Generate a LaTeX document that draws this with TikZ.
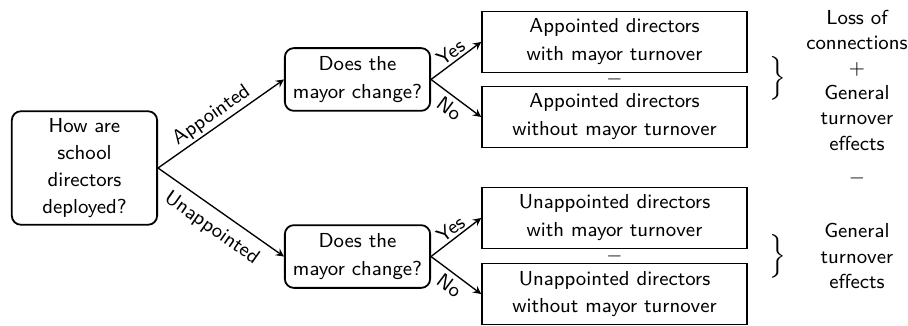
\documentclass[tikz,border=0pt]{standalone}
\usepackage{tikz}
\usepackage{amsmath}
\usepackage{amssymb}
\usetikzlibrary{shapes,arrows,positioning,calc}
\renewcommand{\familydefault}{\sfdefault}

\begin{document}
\begin{tikzpicture}[>=stealth, font=\fontsize{9}{12.4}\selectfont]
  \tikzstyle{question}=[draw, thick, rounded corners=4pt, minimum width=2.27cm, align=center]
  \tikzstyle{outcome}=[draw, thick, minimum width=4.14cm, minimum height=0.92cm, align=center]
  \tikzstyle{branch}=[->, semithick]
  \tikzstyle{lbl}=[sloped, inner sep=1pt]

  \useasboundingbox (0,0) rectangle (14.1875,-5.09375);

  % Pregunta inicial
  \node[question, minimum height=1.72cm, font=\fontsize{9}{11.9}\selectfont] (deploy) at (1.32,-2.625) {How are\\school\\directors\\deployed?};

  % Cambio de alcalde
  \node[question, minimum height=0.98cm] (chgA) at (5.586,-1.242) {Does the\\mayor change?};
  \node[question, minimum height=0.98cm] (chgU) at (5.586,-4.008) {Does the\\mayor change?};

  % Resultados
  \node[outcome] (aYes) at (9.602,-0.656) {Appointed directors\\with mayor turnover};
  \node[outcome] (aNo) at (9.602,-1.828) {Appointed directors\\without mayor turnover};
  \node[outcome] (uYes) at (9.602,-3.406) {Unappointed directors\\with mayor turnover};
  \node[outcome] (uNo) at (9.602,-4.594) {Unappointed directors\\without mayor turnover};

  % Conexiones
  \draw[branch] (deploy.east) -- node[lbl, above=0pt, pos=0.48] {Appointed} (chgA.west);
  \draw[branch] (deploy.east) -- node[lbl, below=3pt, pos=0.51] {Unappointed} (chgU.west);
  \draw[branch] (chgA.east) -- node[lbl, above=0pt, pos=0.51] {Yes} (aYes.west);
  \draw[branch] (chgA.east) -- node[lbl, below=1pt, pos=0.51] {No} (aNo.west);
  \draw[branch] (chgU.east) -- node[lbl, above=0pt, pos=0.51] {Yes} (uYes.west);
  \draw[branch] (chgU.east) -- node[lbl, below=1pt, pos=0.51] {No} (uNo.west);

  % Diferencias
  \node (minA) at ($(aYes.south)!0.5!(aNo.north)$) {$-$};
  \node (minU) at ($(uYes.south)!0.5!(uNo.north)$) {$-$};
  \node[scale=1.2] (braceA) at (12.15,-1.22) {$\Big\}$};
  \node[scale=1.2] (braceU) at (12.15,-4.0) {$\Big\}$};

  % Interpretacion
  \node[align=center, font=\fontsize{9}{11.2}\selectfont] (effA) at (13.39,-1.25) {Loss of\\connections\\$+$\\General\\turnover\\effects};
  \node (minR) at (13.39,-2.79) {$-$};
  \node[align=center, font=\fontsize{9}{11.2}\selectfont] (effU) at (13.39,-4.0) {General\\turnover\\effects};
\end{tikzpicture}
\end{document}
